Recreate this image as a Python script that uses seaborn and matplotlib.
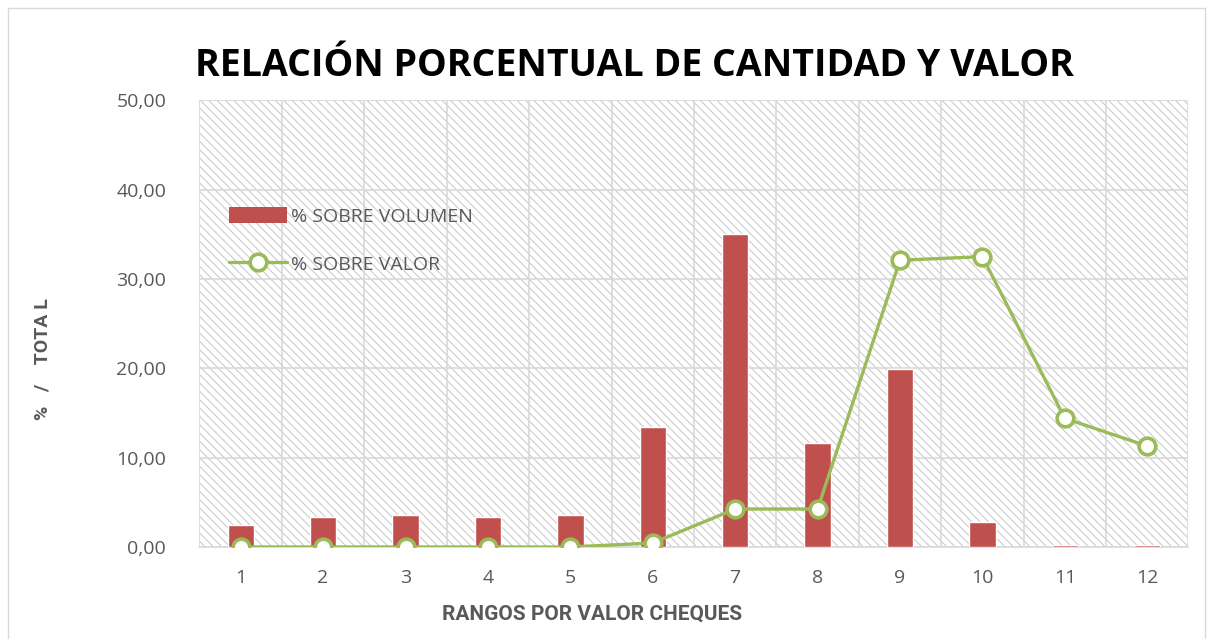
import matplotlib
matplotlib.use("Agg")
import matplotlib.pyplot as plt
import seaborn as sns
import pandas as pd
from matplotlib.patches import Rectangle
from matplotlib.lines import Line2D
from matplotlib.patches import Patch

# Data
rangos = ["1", "2", "3", "4", "5", "6", "7", "8", "9", "10", "11", "12"]
pct_volumen = [2.5, 3.4, 3.6, 3.4, 3.6, 13.4, 35.0, 11.6, 19.9, 2.8, 0.2, 0.2]
pct_valor = [0.0, 0.0, 0.0, 0.0, 0.0, 0.45, 4.25, 4.25, 32.1, 32.5, 14.4, 11.3]
y_ticks = [0, 10, 20, 30, 40, 50]

RED = "#C0504D"
GREEN = "#9BBB59"
GRID = "#D9D9D9"
TXT = "#595959"

df = pd.DataFrame({"rango": rangos, "volumen": pct_volumen, "valor": pct_valor})

sns.set_theme(style="white")
plt.rcParams["font.family"] = ["Open Sans", "DejaVu Sans"]
plt.rcParams["hatch.linewidth"] = 0.7

fig = plt.figure(figsize=(12.09, 6.39), dpi=100)
ax = fig.add_axes([0.165, 0.144, 0.818, 0.699])

# hatched plot area background
ax.add_patch(Rectangle((0, 0), 1, 1, transform=ax.transAxes, facecolor="white",
                       edgecolor="#C6C6C6", hatch="\\\\\\\\", lw=0, zorder=0))

sns.barplot(data=df, x="rango", y="volumen", color=RED, width=0.32,
            saturation=1, ax=ax, zorder=3)
sns.pointplot(data=df, x="rango", y="valor", color=GREEN, markers="o",
              linestyles="-", markersize=12, markerfacecolor="white",
              markeredgewidth=2.6, linewidth=2.4, ax=ax, zorder=4)

ax.set_ylim(0, 50)
ax.set_xlim(-0.5, len(rangos) - 0.5)
ax.set_yticks(y_ticks)
ax.set_yticklabels([f"{v:.2f}".replace(".", ",") for v in y_ticks])

# gridlines on category boundaries, like Excel
ax.set_xticks([i - 0.5 for i in range(len(rangos) + 1)], minor=True)
ax.grid(True, axis="y", color=GRID, lw=1.2, zorder=1)
ax.grid(True, axis="x", which="minor", color=GRID, lw=1.2, zorder=1)
ax.set_axisbelow(True)
ax.tick_params(axis="x", which="major", length=0, pad=16, labelsize=14, labelcolor=TXT)
ax.tick_params(axis="x", which="minor", length=7, width=1.2, color=GRID, direction="out")
ax.tick_params(axis="y", length=0, pad=24, labelsize=14, labelcolor=TXT)

for s in ["top", "right", "left"]:
    ax.spines[s].set_visible(False)
ax.spines["bottom"].set_color(GRID)
ax.spines["bottom"].set_linewidth(1.2)

ax.set_xlabel("RANGOS POR VALOR CHEQUES", fontsize=15, fontweight="bold",
              color=TXT, family=["Roboto", "DejaVu Sans"])
ax.xaxis.set_label_coords(0.397, -0.13)
ax.set_ylabel("%   /    TOTA L", fontsize=14, fontweight="bold", color=TXT,
              family=["Roboto", "DejaVu Sans"])
ax.yaxis.set_label_coords(-0.15, 0.42)

fig.text(0.161, 0.897, "RELACIÓN PORCENTUAL DE CANTIDAD Y VALOR", fontsize=27,
         fontweight="bold", color="black", va="center", ha="left")

handles = [
    Patch(facecolor=RED, edgecolor="none"),
    Line2D([], [], color=GREEN, lw=2.4, marker="o", markersize=12,
           markerfacecolor="white", markeredgewidth=2.6),
]
leg = ax.legend(handles, ["% SOBRE VOLUMEN", "% SOBRE VALOR"],
                loc="upper left", bbox_to_anchor=(0.012, 0.80), frameon=False,
                fontsize=14, handlelength=3.0, handleheight=0.9,
                labelspacing=1.5, handletextpad=0.2)
for t in leg.get_texts():
    t.set_color(TXT)

# chart frame
fig.add_artist(Rectangle((0.007, -0.01), 0.99, 0.998, transform=fig.transFigure,
                         fill=False, edgecolor="#D9D9D9", lw=1))

fig.savefig("out.png", dpi=100)
